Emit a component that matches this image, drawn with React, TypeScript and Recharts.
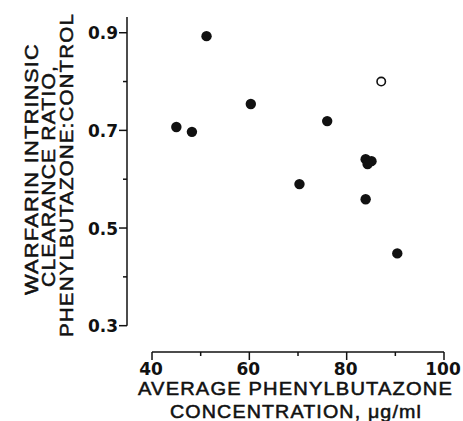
import React from 'react';
import { ScatterChart, Scatter, XAxis, YAxis, ReferenceLine, Customized } from 'recharts';

// Filled points: average phenylbutazone concentration (µg/ml) vs clearance ratio
const concentration = [51.2, 60.3, 45.0, 48.2, 76.0, 83.9, 85.1, 84.3, 70.3, 83.9, 90.4];
const clearanceRatio = [0.893, 0.754, 0.707, 0.697, 0.719, 0.641, 0.637, 0.631, 0.59, 0.559, 0.448];
// Open point
const openConcentration = [87.1];
const openClearanceRatio = [0.8];

const xTicks = [40, 50, 60, 70, 80, 90, 100];
const yTicks = [0.3, 0.4, 0.5, 0.6, 0.7, 0.8, 0.9];
const xDomain: [number, number] = [34.86, 100];
const yDomain: [number, number] = [0.2461, 0.9322];

const filled = concentration.map((x, i) => ({ x, y: clearanceRatio[i] }));
const open = openConcentration.map((x, i) => ({ x, y: openClearanceRatio[i] }));

const INK = '#111';
const TICK_FONT = "'DejaVu Sans', sans-serif";
const TITLE_FONT = "'Liberation Sans', Arial, sans-serif";

const XTick = (props: any) => {
  const { x, y, payload } = props;
  const v = payload.value;
  const major = v % 20 === 0;
  return (
    <g>
      <line x1={x} x2={x} y1={y} y2={y + (major ? 8 : 4)} stroke={INK} strokeWidth={1.5} />
      {major && (
        <text x={x - 1} y={y + 23} textAnchor="middle" fontFamily={TICK_FONT} fontWeight="bold" fontSize={17} fill={INK}>
          {v}
        </text>
      )}
    </g>
  );
};

const YTick = (props: any) => {
  const { x, y, payload } = props;
  const v = payload.value;
  const major = Math.round(v * 10) % 2 === 1;
  return (
    <g>
      <line x1={x - (major ? 8 : 4)} x2={x} y1={y} y2={y} stroke={INK} strokeWidth={1.5} />
      {major && (
        <text x={x - 9} y={y + 6.5} textAnchor="end" fontFamily={TICK_FONT} fontWeight="bold" fontSize={17} fill={INK}>
          {v.toFixed(1)}
        </text>
      )}
    </g>
  );
};

const yTitle = [
  { text: 'WARFARIN INTRINSIC', bx: 38, cy: 169, len: 252 },
  { text: 'CLEARANCE RATIO,', bx: 55, cy: 176, len: 222 },
  { text: 'PHENYLBUTAZONE:CONTROL', bx: 72.5, cy: 175, len: 324 },
];
const xTitle = [
  { text: 'AVERAGE PHENYLBUTAZONE', cx: 295.5, by: 395, len: 315 },
  { text: 'CONCENTRATION, μg/ml', cx: 296, by: 418, len: 252 },
];

const Titles = () => (
  <g fontFamily={TITLE_FONT} fontSize={17.5} fill={INK} stroke={INK} strokeWidth={0.5}>
    {yTitle.map((t) => (
      <text
        key={t.text}
        x={t.bx}
        y={t.cy}
        textAnchor="middle"
        transform={`rotate(-90 ${t.bx} ${t.cy})`}
        textLength={t.len}
        lengthAdjust="spacingAndGlyphs"
        letterSpacing={1}
      >
        {t.text}
      </text>
    ))}
    {xTitle.map((t) => (
      <text
        key={t.text}
        x={t.cx}
        y={t.by}
        textAnchor="middle"
        textLength={t.len}
        lengthAdjust="spacingAndGlyphs"
        letterSpacing={1}
      >
        {t.text}
      </text>
    ))}
  </g>
);

const FilledDot = (props: any) => <circle cx={props.cx} cy={props.cy} r={5.2} fill={INK} />;
const OpenDot = (props: any) => (
  <circle cx={props.cx} cy={props.cy} r={4.2} fill="#fff" stroke={INK} strokeWidth={1.6} />
);

export default function App() {
  return (
    <div style={{ position: 'absolute', left: 0, top: 0, background: '#fff' }}>
      <ScatterChart width={463} height={421} margin={{ top: 17, right: 19, bottom: 29, left: 67 }}>
        <XAxis
          type="number"
          dataKey="x"
          domain={xDomain}
          ticks={xTicks}
          interval={0}
          allowDataOverflow
          axisLine={false}
          tickLine={false}
          tickSize={0}
          tickMargin={0}
          height={40}
          tick={(p: any) => <XTick {...p} />}
        />
        <YAxis
          type="number"
          dataKey="y"
          domain={yDomain}
          ticks={yTicks}
          interval={0}
          allowDataOverflow
          axisLine={false}
          tickLine={false}
          tickSize={0}
          tickMargin={0}
          width={60}
          tick={(p: any) => <YTick {...p} />}
        />
        <ReferenceLine
          segment={[{ x: xTicks[0], y: yDomain[0] }, { x: xTicks[xTicks.length - 1], y: yDomain[0] }]}
          stroke={INK}
          strokeWidth={1.5}
          ifOverflow="visible"
        />
        <ReferenceLine
          segment={[{ x: xDomain[0], y: yTicks[0] }, { x: xDomain[0], y: yDomain[1] }]}
          stroke={INK}
          strokeWidth={1.5}
          ifOverflow="visible"
        />
        <Scatter data={filled} shape={FilledDot} isAnimationActive={false} />
        <Scatter data={open} shape={OpenDot} isAnimationActive={false} />
        <Customized component={Titles} />
      </ScatterChart>
    </div>
  );
}
